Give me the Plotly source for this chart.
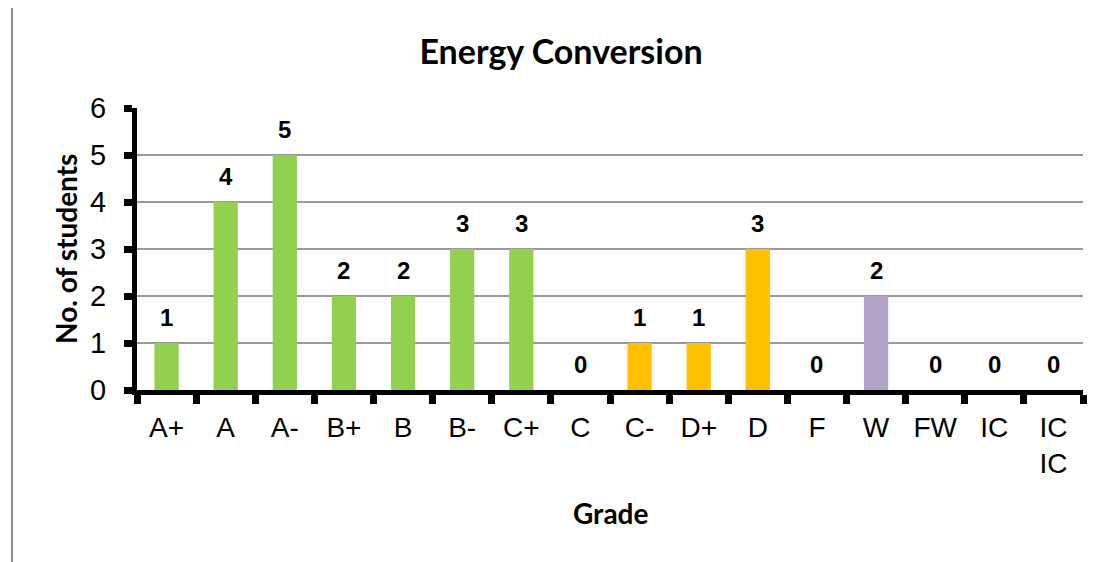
import plotly.graph_objects as go

# Données
grades   = ["A+", "A", "A-", "B+", "B", "B-", "C+", "C", "C-", "D+", "D", "F", "W", "FW", "IC", "IC<br>IC"]
students = [1, 4, 5, 2, 2, 3, 3, 0, 1, 1, 3, 0, 2, 0, 0, 0]
colours  = ["#92D050"] * 7 + ["#FFC000"] * 4 + ["#FFC000", "#B3A2C7", "#B3A2C7", "#B3A2C7", "#B3A2C7"]

TITLE_FONT = "Lato, Open Sans, sans-serif"
TICK_FONT  = "Arial, Liberation Sans, sans-serif"

# la page ajoute une marge de 8 px : on décale tout
OFF = 8
W, H = 1097 - OFF, 562 - OFF
L, R, T, B = 137 - OFF, 1083 - OFF, 108 - OFF, 390 - OFF
PW, PH = R - L, B - T

fig = go.Figure()

fig.add_trace(go.Bar(
    x            = grades,
    y            = students,
    marker_color = colours,
    marker_line_width = 0,
    width        = 0.41,
    hovertemplate= "%{x}<br>%{y} students<extra></extra>",
))

# étiquettes de valeurs au-dessus des barres
labels = [
    dict(x=g, y=v, text=str(v), showarrow=False, yshift=26, yanchor="middle",
         font=dict(family=TICK_FONT, size=24, color="black", weight="bold"))
    for g, v in zip(grades, students)
]

labels += [
    dict(text="No. of students", xref="paper", yref="paper", x=(66 - OFF - L) / PW, y=0.5,
         xanchor="center", yanchor="middle", textangle=-90, showarrow=False,
         font=dict(family=TITLE_FONT, size=28, color="black", weight="bold")),
    dict(text="Grade", xref="paper", yref="paper", x=0.5, y=(B - (513 - OFF)) / PH,
         xanchor="center", yanchor="middle", showarrow=False,
         font=dict(family=TITLE_FONT, size=28, color="black", weight="bold")),
]

fig.update_layout(
    width         = W,
    height        = H,
    margin        = dict(l=L, r=W - R, t=T, b=H - B),
    title         = dict(text="Energy Conversion", x=(561 - OFF) / W, xref="container", xanchor="center",
                         y=1 - (52 - OFF) / H, yref="container", yanchor="middle",
                         font=dict(family=TITLE_FONT, size=34, color="black", weight="bold")),
    showlegend    = False,
    paper_bgcolor = "white",
    plot_bgcolor  = "white",
    annotations   = labels,
    xaxis = dict(
        type="category", range=[-0.5, 15.5],
        showline=True, linewidth=5, linecolor="black",
        ticks="outside", tickson="boundaries", ticklen=9, tickwidth=7, tickcolor="black",
        ticklabelstandoff=8, tickangle=0,
        tickfont=dict(family=TICK_FONT, size=28, color="black"),
        showgrid=False,
    ),
    yaxis = dict(
        range=[0, 6], dtick=1,
        showline=True, linewidth=5, linecolor="black",
        ticks="outside", ticklen=8, tickwidth=7, tickcolor="black",
        ticklabelstandoff=12,
        tickfont=dict(family=TICK_FONT, size=29, color="black"),
        showgrid=True, gridcolor="#9A9A9A", gridwidth=2,
        zeroline=False,
    ),
    shapes = [dict(type="rect", xref="paper", yref="paper",
                   x0=(12 - OFF - L) / PW, x1=(1110 - L) / PW,
                   y0=(B - 580) / PH, y1=(B - (6 - OFF)) / PH,
                   line=dict(color="#8C8C8C", width=2), layer="below")],
)

fig.write_html("out.html")
